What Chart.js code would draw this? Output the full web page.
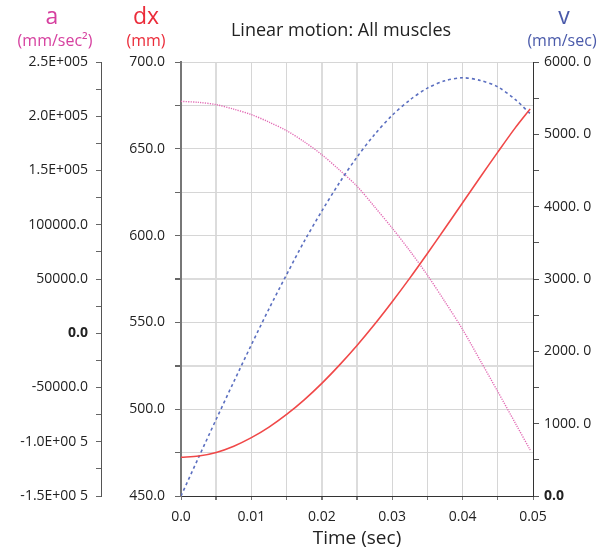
<!DOCTYPE html>
<html>
<head>
<meta charset="utf-8">
<script src="https://cdn.jsdelivr.net/npm/chart.js@4/dist/chart.umd.min.js"></script>
<style>
  html, body { margin: 0; padding: 0; background: #fff; }
  #wrap { width: 600px; height: 550px; }
</style>
</head>
<body>
<div id="wrap"><canvas id="motionChart" width="600" height="550"></canvas></div>
<script>
// valores (tempo em s)
const times = [0, 0.0025, 0.005, 0.0075, 0.01, 0.0125, 0.015, 0.0175, 0.02, 0.0225, 0.025,
  0.0275, 0.03, 0.0325, 0.035, 0.0375, 0.04, 0.0425, 0.045, 0.0475, 0.0496];
const dxValues = [472.3, 473.0, 475.1, 478.7, 483.6, 489.7, 497.0, 505.4, 514.9, 525.4, 536.7,
  548.9, 561.9, 575.5, 589.7, 604.2, 618.9, 633.6, 648.1, 662.2, 673.0];
const vValues = [0, 533, 1061, 1580, 2091, 2588, 3061, 3520, 3939, 4330, 4686,
  4998, 5263, 5475, 5639, 5740, 5782, 5745, 5656, 5480, 5285];
const aValues = [213700, 212800, 210700, 206500, 201500, 194600, 186700, 176500, 164600, 150500, 135500,
  116500, 96900, 76000, 53500, 29000, 3500, -25000, -53800, -83000, -107600];

// rotulos dos eixos
const timeTickLabels = ['0.0', '0.01', '0.02', '0.03', '0.04', '0.05'];
const dxTickLabels = ['450.0', '500.0', '550.0', '600.0', '650.0', '700.0'];
const vTickLabels = ['0.0', '1000. 0', '2000. 0', '3000. 0', '4000. 0', '5000. 0', '6000. 0'];
const aTickLabels = ['-1.5E+00 5', '-1.0E+00 5', '-50000.0', '0.0', '50000.0', '100000.0', '1.5E+005', '2.0E+005', '2.5E+005'];

const FONT = "'Open Sans', 'Noto Sans', sans-serif";

function toPoints(values) {
  return times.map((t, i) => ({ x: t, y: values[i] }));
}

function tickFont(ctx) {
  const bold = ctx.tick && ctx.tick.value === 0;
  return { family: FONT, size: 14, weight: bold ? 'bold' : 'normal' };
}

// titulo e cabecalhos dos eixos
const headerPlugin = {
  id: 'headers',
  afterDraw(chart) {
    const c = chart.ctx;
    c.save();
    c.textAlign = 'center';
    c.textBaseline = 'alphabetic';
    c.fillStyle = '#222';
    c.font = '18px ' + FONT;
    c.fillText('Linear motion: All muscles', 341, 36);

    c.fillStyle = '#d6409f';
    c.font = '23px ' + FONT;
    c.fillText('a', 52, 24);
    c.font = '16px ' + FONT;
    c.fillText('(mm/sec²)', 55, 46);

    c.fillStyle = '#eb2c3a';
    c.font = '23px ' + FONT;
    c.fillText('dx', 146, 24);
    c.font = '16px ' + FONT;
    c.fillText('(mm)', 146, 46);

    c.fillStyle = '#4a5aaa';
    c.font = '23px ' + FONT;
    c.fillText('v', 564, 24);
    c.font = '16px ' + FONT;
    c.fillText('(mm/sec)', 562, 46);
    c.restore();
  }
};

const thickTimes = [1, 4, 5];   // indices (x 0.005) das linhas mais grossas
const thickDx = [525, 575];

new Chart(document.getElementById('motionChart').getContext('2d'), {
  type: 'line',
  data: {
    datasets: [
      {
        label: 'dx',
        data: toPoints(dxValues),
        yAxisID: 'dx',
        borderColor: '#f04848',
        borderWidth: 1.6,
        pointRadius: 0,
        tension: 0.3
      },
      {
        label: 'v',
        data: toPoints(vValues),
        yAxisID: 'v',
        borderColor: '#5b6fc0',
        borderWidth: 1.6,
        borderDash: [3, 3],
        pointRadius: 0,
        tension: 0.3
      },
      {
        label: 'a',
        data: toPoints(aValues),
        yAxisID: 'a',
        borderColor: '#e26ab4',
        borderWidth: 1.4,
        borderDash: [1.2, 1.2],
        pointRadius: 0,
        tension: 0.3
      }
    ]
  },
  options: {
    responsive: false,
    animation: false,
    layout: { padding: { top: 62, left: 0, right: 0, bottom: 0 } },
    plugins: {
      legend: { display: false },
      tooltip: { enabled: false }
    },
    scales: {
      x: {
        type: 'linear',
        min: 0,
        max: 0.05,
        afterFit: s => { s.height = 54; },
        grid: {
          color: ctx => thickTimes.includes(Math.round(ctx.tick.value / 0.005)) ? '#dcdcdc' : '#d6d6d6',
          lineWidth: ctx => thickTimes.includes(Math.round(ctx.tick.value / 0.005)) ? 2 : 1,
          tickColor: '#777',
          tickLength: 4
        },
        border: { color: '#333', width: 1 },
        ticks: {
          stepSize: 0.005,
          autoSkip: false,
          maxRotation: 0,
          padding: 9,
          color: '#222',
          font: { family: FONT, size: 14 },
          callback: v => {
            const i = Math.round(v / 0.005);
            return i % 2 === 0 ? timeTickLabels[i / 2] : '';
          }
        },
        title: {
          display: true,
          text: 'Time (sec)',
          color: '#222',
          font: { family: FONT, size: 19 },
          padding: { top: 0, bottom: 0 }
        }
      },
      a: {
        type: 'linear',
        position: 'left',
        weight: 2,
        min: -150000,
        max: 250000,
        afterFit: s => { s.width = 101; },
        grid: { drawOnChartArea: false, tickColor: '#666', tickLength: 5 },
        border: { color: '#555', width: 1 },
        ticks: {
          stepSize: 25000,
          maxTicksLimit: 100,
          autoSkip: false,
          padding: 8,
          color: '#222',
          font: tickFont,
          callback: v => (v % 50000 === 0 ? aTickLabels[(v + 150000) / 50000] : '')
        }
      },
      dx: {
        type: 'linear',
        position: 'left',
        weight: 1,
        min: 450,
        max: 700,
        afterFit: s => { s.width = 80; },
        grid: {
          color: ctx => thickDx.includes(ctx.tick.value) ? '#dcdcdc' : '#d6d6d6',
          lineWidth: ctx => thickDx.includes(ctx.tick.value) ? 2 : 1,
          tickColor: '#666',
          tickLength: 6
        },
        border: { color: '#777', width: 2 },
        ticks: {
          stepSize: 25,
          maxTicksLimit: 100,
          autoSkip: false,
          padding: 10,
          color: '#222',
          font: { family: FONT, size: 14 },
          callback: v => ((v - 450) % 50 === 0 ? dxTickLabels[(v - 450) / 50] : '')
        }
      },
      v: {
        type: 'linear',
        position: 'right',
        min: 0,
        max: 6000,
        afterFit: s => { s.width = 67; },
        grid: { drawOnChartArea: false, tickColor: '#555', tickLength: 6 },
        border: { color: '#333', width: 1 },
        ticks: {
          stepSize: 500,
          maxTicksLimit: 100,
          autoSkip: false,
          padding: 5,
          color: '#222',
          font: tickFont,
          callback: v => (v % 1000 === 0 ? vTickLabels[v / 1000] : '')
        }
      }
    }
  },
  plugins: [headerPlugin]
});
</script>
</body>
</html>
